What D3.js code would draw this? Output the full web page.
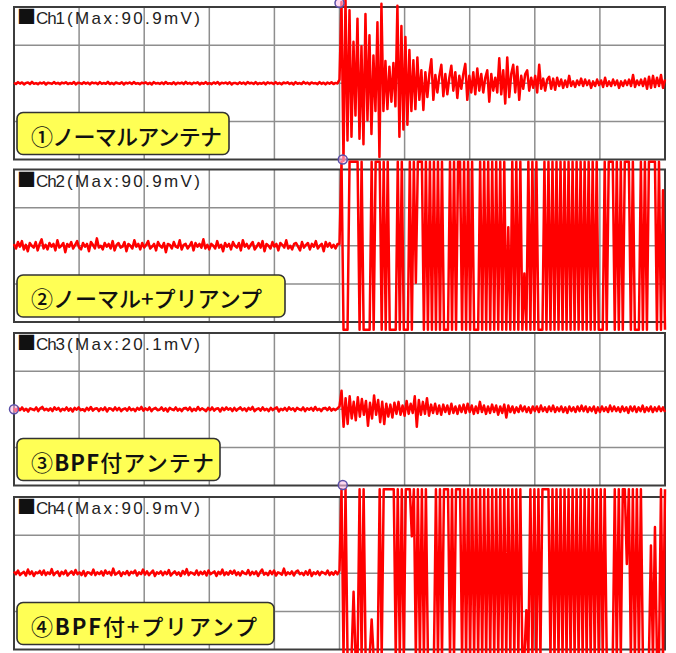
<!DOCTYPE html>
<html>
<head>
<meta charset="utf-8">
<script src="https://cdn.jsdelivr.net/npm/d3@7/dist/d3.min.js"></script>
<style>
  html, body { margin: 0; padding: 0; background: #ffffff; }
  svg { display: block; }
</style>
</head>
<body>
<svg id="scope" width="676" height="653"></svg>
<script>
// Channel names and antenna set-up captions
const channels = ["Ch1", "Ch2", "Ch3", "Ch4"];
const captions = ["①ノーマルアンテナ", "②ノーマル+プリアンプ", "③BPF付アンテナ", "④BPF付+プリアンプ"];

// Samples before the trigger (mV)
const ch1Pre = [0.5,-0.8,1.2,-0.4,0.9,-1.3,0.3,0.8,-0.9,1.5,-0.6,0.2,-1.1,0.7,-0.3,1.0,-1.4,0.6,0.1,-0.7,1.3,-0.5,0.4,-1.0,0.8,-0.2,1.1,-0.9,0.3,-0.6,1.4,-1.2,0.5,0.2,-0.8,1.0,-0.4,0.7,-1.3,0.9,-0.1,0.6,-1.0,1.2,-0.7,0.3,-0.5,1.5,-0.9,0.4,-1.2,0.8,0.0,-0.6,1.1,-1.4,0.6,-0.3,0.9,-0.8,1.3,-0.5,0.2,-1.1,0.7,-0.2,1.0,-0.9,0.5,-1.3,1.2,-0.4,0.3,-0.7,0.9,-1.0,1.4,-0.6,0.1,-0.8,1.1,-1.2,0.6,-0.3,0.8,-0.9,1.5,-0.5,0.4,-1.1,0.7,-0.1,1.0,-1.3,0.5,-0.6,1.2,-0.8,0.3,-1.0,0.9,-0.4,1.3,-1.2,0.6,-0.2,0.8,-0.7,1.1,-1.4,0.4,0.2,-0.9,1.0,-0.5,0.7,-1.1,1.4,-0.3,0.5,-0.8,1.2,-1.0,0.3,-0.6,0.9,-1.3,1.1,-0.2,0.6,-0.9,1.3,-0.7,0.4,-1.2,0.8,-0.1,1.0,-0.8,0.5,-1.4,1.2,-0.6,0.3,-0.9,1.5,-0.4,0.7,-1.1,0.9,-0.3,0.2,-1.0,1.3,-0.7,0.6,-1.2,0.8,-0.5,1.1,-0.9,0.4,-0.2];
const ch2Pre = [2,-3,4,-1,5,-4,1,-6,3,0,-2,4,-5,2,7,-3,1,-4,3,-1,2,-5,6,-2,0,3,-7,2,-1,4,-3,1,5,-2,-4,3,-1,2,-6,4,1,-3,8,-2,0,-4,3,-1,2,-3,5,-5,1,3,-2,-1,4,-6,2,0,-3,6,-1,2,-4,3,-2,1,5,-3,-1,2,-5,4,0,-2,3,-7,2,1,-3,4,-1,-2,6,-4,1,2,-3,0,4,-5,3,-1,2,-2,7,-3,1,-4,2,0,-3,5,-2,1,-6,3,-1,2,-4,4,0,-2,3,-5,6,-1,2,-3,1,4,-4,-1,3,-2,5,-6,2,0,-3,4,-1,2,-5,3,1,-2,6,-3,0,-4,2,3,-1,-5,4,-2,1,3,-4,2,-1,5,-3,0,2,-6,4,-1,3,-2,1,-3,2];
const ch3Pre = [1,-2,1.5,-1,2,-1.5,0.5,-2.5,1,0,-1,2,-2,1,2.5,-1,0.5,-1.5,1,-2,2,-0.5,1.5,-2,0.5,-1,2,-1.5,1,-2.5,1.5,-0.5,2,-1,0,-2,1.5,-1,2.5,-1.5,0.5,1,-2,1,-1,2,-2.5,1,0.5,-1.5,2,-1,1.5,-2,0,1,-1.5,2,-1,0.5,-2,1.5,-0.5,2.5,-1.5,1,-1,2,-2,0.5,1.5,-1,-0.5,2,-1.5,1,-2.5,1.5,0,-1,2,-1.5,0.5,-2,1,1.5,-1,2,-2,0.5,-1.5,2.5,-1,1,-0.5,-2,1.5,-1,2,-1.5,0.5,1,-2.5,1.5,-1,2,-0.5,1,-2,1.5,-1.5,0.5,2,-1,1,-2,1.5,-0.5,2.5,-2,0,1,-1.5,2,-1,0.5,-2,1.5,-1,1,2,-2.5,0.5,-1,1.5,-1.5,2,-0.5,1,-2,1.5,0,-1,2,-2,1,-0.5,1.5,-1.5,2.5,-1,0.5,-2,1,1.5,-1,2,-1.5,0.5,-1,1];
const ch4Pre = [2,-1,3,-2,0,1.5,-2.5,4,-1,2,-3,1,0,2.5,-1.5,3,-2,1,-1,4.5,-2,0.5,2,-3,1.5,-1,3,-2.5,0,2,-1.5,3.5,-1,1,-2,2.5,-3,1,0.5,-1.5,4,-2,1,-1,2,-2.5,3,-0.5,1.5,-2,5,-1.5,0,2,-3,1,-1,2.5,-2,1.5,0,3,-2.5,1,-1,4,-1.5,2,-2,0.5,3,-3,1,-0.5,2,-2,1.5,-1,3.5,-2.5,0,2,-1.5,1,-3,2.5,-1,4.5,-2,1,0,-1.5,3,-2,1.5,-1,2,-2.5,3,-1,0.5,2,-3,1.5,-1,4,-2,1,-1.5,2.5,-0.5,3,-2,1,-2.5,2,0,-1,3.5,-2,1.5,-1,2,-3,1,4,-1.5,0.5,-2,2.5,-1,3,-2.5,1,0,-1.5,5,-2,1,-1,2,-2.5,1.5,3,-1,0.5,-2,2,-1.5,3.5,-3,1,-1,2,-2,1.5,0.5,-1,3,-2,1,-1.5,2,-1];

// Samples from the trigger onward (mV); ±90.9 is the input limit
const ch1Post = [4,88,-84,90.9,-62,79,-58,45,-35,70,-60,40,-66,75,-40,52,-55,30,-30,66,-80,86,-30,24,-28,18,-20,22,-25,84,-58,62,-50,50,-45,36,-30,25,-28,28,-18,14,-29,12,-15,10,26,-18,9,-10,8,20,-14,10,-12,6,19,-8,12,-16,8,-6,10,21,-18,8,-10,12,-12,16,-8,10,-10,6,14,-20,10,-8,6,-10,27,-12,14,-22,28,-15,10,20,-10,18,-18,8,-6,10,14,-8,6,-5,8,-10,20,-6,5,-8,4,7,-6,5,-7,6,-3,4,-5,3,-4,8,-3,2,-4,3,-2,5,-3,4,-2,3,-5,2,-3,4,-2,3,-4,6,-3,2,-3,4,-2,3,-5,2,-3,3,-2,4,-3,9,-4,3,-2,4,-3,5,-6,7,-5,8,-4,6,-3,9,-5,4];
const ch2Post = [2,90.9,-90.9,-90.9,-90.9,90.9,90.9,90.9,90.9,90.9,-90.9,90.9,-90.9,-90.9,-90.9,-90.9,90.9,-90.9,90.9,90.9,90.9,-90.9,90.9,-90.9,90.9,-90.9,-90.9,-90.9,-90.9,90.9,-90.9,90.9,-90.9,-90.9,-90.9,90.9,-90.9,90.9,-40,90.9,90.9,90.9,-90.9,90.9,-90.9,90.9,-90.9,90.9,-90.9,90.9,-90.9,90.9,-90.9,-90.9,-90.9,90.9,-90.9,90.9,-90.9,90.9,90.9,-90.9,90.9,-90.9,90.9,-90.9,90.9,-90.9,-90.9,-90.9,90.9,-90.9,90.9,-90.9,90.9,-90.9,90.9,-90.9,90.9,-90.9,90.9,-90.9,90.9,-90.9,20,-90.9,90.9,-90.9,90.9,-90.9,90.9,-90.9,-30,-90.9,90.9,-90.9,90.9,-90.9,90.9,-90.9,-90.9,-90.9,90.9,-90.9,90.9,-90.9,90.9,-90.9,90.9,-90.9,90.9,-90.9,90.9,-90.9,90.9,-90.9,90.9,-90.9,90.9,-90.9,90.9,-90.9,90.9,-90.9,90.9,-90.9,90.9,-90.9,90.9,-90.9,-90.9,-90.9,90.9,-90.9,90.9,90.9,90.9,-90.9,90.9,-90.9,90.9,-90.9,90.9,90.9,90.9,-90.9,90.9,-90.9,-90.9,-90.9,90.9,-90.9,90.9,-90.9,90.9,90.9,90.9,90.9,-90.9,90.9,-90.9,60,-90.9];
const ch3Post = [3,20.1,-19,12,-16,14,-10,8,-12,13,-8,11,-6,9,-18,7,-10,15,-6,10,-14,8,-16,6,-8,5,-9,7,-5,8,-6,4,-7,9,-5,6,-4,14,-19,10,-6,8,-5,12,-7,5,-4,6,-5,4,-6,5,-3,4,-5,6,-4,3,-5,4,-3,5,-4,6,-3,4,-5,3,-4,8,-3,4,-5,3,-4,5,-3,4,-6,3,-4,5,-9,4,-3,3,-4,2,-3,4,-2,3,-3,2,-4,3,-2,3,-3,4,-2,2,-3,3,-2,4,-3,2,-2,3,-3,2,-4,3,-2,2,-3,3,-2,4,-2,3,-3,2,-2,3,-4,2,-3,3,-2,2,-3,4,-2,3,-2,2,-3,3,-2,2,-4,3,-2,3,-3,2,-2,4,-3,2,-2,3,-3,2,-2,3,-2,2,-3];
const ch4Post = [3,90.9,-90.9,90.9,-90.9,-90.9,-90.9,-20,-90.9,-90.9,90.9,-90.9,90.9,-90.9,-90.9,-90.9,-50,-90.9,-90.9,-90.9,90.9,-90.9,90.9,90.9,90.9,90.9,90.9,90.9,-90.9,90.9,-90.9,90.9,-90.9,90.9,90.9,90.9,40,90.9,-90.9,90.9,-90.9,90.9,-90.9,90.9,-90.9,-90.9,-90.9,-90.9,90.9,-90.9,90.9,-90.9,90.9,90.9,90.9,-90.9,90.9,-90.9,90.9,90.9,90.9,-90.9,90.9,-90.9,90.9,-90.9,90.9,-90.9,90.9,-90.9,90.9,-90.9,90.9,-90.9,90.9,-90.9,90.9,-90.9,90.9,-90.9,90.9,-90.9,90.9,-90.9,90.9,-90.9,90.9,-90.9,90.9,-90.9,90.9,-90.9,-90.9,-40,-90.9,90.9,-90.9,90.9,-90.9,90.9,-90.9,90.9,90.9,90.9,90.9,-90.9,90.9,-90.9,90.9,-90.9,90.9,-90.9,90.9,-90.9,90.9,-90.9,90.9,-90.9,90.9,-90.9,90.9,-90.9,90.9,-90.9,90.9,-90.9,90.9,-90.9,90.9,-90.9,90.9,-90.9,90.9,-90.9,-90.9,-90.9,-90.9,90.9,-90.9,90.9,-90.9,90.9,90.9,10,90.9,-90.9,90.9,-90.9,90.9,-90.9,90.9,-90.9,-90.9,-90.9,-90.9,30,-90.9,50,-90.9,-90.9,90.9,-90.9,90.9];

const preData = [ch1Pre, ch2Pre, ch3Pre, ch4Pre];
const postData = [ch1Post, ch2Post, ch3Post, ch4Post];

// Screen layout
const left = 14, right = 665;
const panelTops = [7, 169.5, 333, 497];
const panelH = 152.5;
const mvPerDiv = 41.3;
const boxWidths = [212, 268, 203, 257];
const captionLengths = [191, 231, 183, 226];

const svg = d3.select("#scope");

// Time axis in divisions, trigger at 0
const x = d3.scaleLinear().domain([-5, 5]).range([left, right]);

const panels = channels.map((name, i) => {
  const top = panelTops[i];
  const y = d3.scaleLinear().domain([-2 * mvPerDiv, 2 * mvPerDiv]).range([top + panelH, top]);
  const pre = preData[i], post = postData[i];
  const pts = pre.map((v, j) => [-5 + 5 * j / pre.length, v])
    .concat(post.map((v, k) => [5 * k / (post.length - 1), v]));
  const maxV = d3.max(pre.concat(post));
  return { name, top, y, pts, maxV, caption: captions[i], boxW: boxWidths[i], capLen: captionLengths[i] };
});

const gridLayer = svg.append("g");
const traceLayer = svg.append("g");
const labelLayer = svg.append("g");
const markLayer = svg.append("g");

panels.forEach(p => {
  const g = gridLayer.append("g");
  g.append("rect").attr("x", left).attr("y", p.top).attr("width", right - left).attr("height", panelH)
    .attr("fill", "#ffffff");
  // vertical grid
  g.selectAll("line.v").data(d3.range(-4, 5)).join("line")
    .attr("x1", d => x(d)).attr("x2", d => x(d))
    .attr("y1", p.top).attr("y2", p.top + panelH)
    .attr("stroke", "#8e8e8e").attr("stroke-width", 1.5);
  // horizontal grid
  g.selectAll("line.h").data([-1, 0, 1]).join("line")
    .attr("x1", left).attr("x2", right)
    .attr("y1", d => p.y(d * mvPerDiv)).attr("y2", d => p.y(d * mvPerDiv))
    .attr("stroke", "#8e8e8e").attr("stroke-width", 1.5);
  g.append("rect").attr("x", left).attr("y", p.top).attr("width", right - left).attr("height", panelH)
    .attr("fill", "none").attr("stroke", "#3c3c3c").attr("stroke-width", 2);

  const line = d3.line().x(d => x(d[0])).y(d => p.y(d[1]));
  traceLayer.append("path").datum(p.pts).attr("d", line)
    .attr("fill", "none").attr("stroke", "#ff0000").attr("stroke-width", 2.5)
    .attr("stroke-linejoin", "round");

  // channel header
  const hdr = labelLayer.append("text").attr("y", p.top + 17)
    .attr("font-family", "'Liberation Sans', Arial, sans-serif").attr("font-size", 17).attr("fill", "#222");
  hdr.append("tspan").attr("x", 17).attr("font-family", "'Noto Sans CJK JP'").attr("font-size", 19)
    .attr("fill", "#111").text("■");
  hdr.append("tspan").attr("x", 36).attr("textLength", 29).attr("lengthAdjust", "spacing").text(p.name);
  hdr.append("tspan").attr("x", 67).attr("textLength", 133).attr("lengthAdjust", "spacing")
    .text(`(Max:${p.maxV.toFixed(1)}mV)`);

  // caption box
  const by = p.top + 105.5;
  labelLayer.append("rect").attr("x", 17).attr("y", by).attr("width", p.boxW).attr("height", 42)
    .attr("rx", 6).attr("ry", 6).attr("fill", "#ffff55").attr("stroke", "#333333").attr("stroke-width", 1.6);
  const cap = labelLayer.append("text").attr("x", 31).attr("y", by + 22)
    .attr("dominant-baseline", "central")
    .attr("font-family", "'Noto Sans CJK JP', sans-serif").attr("font-size", 22).attr("font-weight", 500)
    .attr("fill", "#111").attr("textLength", p.capLen).attr("lengthAdjust", "spacing");
  const parts = p.caption.split("BPF");
  if (parts.length > 1) {
    cap.append("tspan").text(parts[0]);
    cap.append("tspan").attr("font-weight", 700).text("BPF");
    cap.append("tspan").text(parts[1]);
  } else {
    cap.text(p.caption);
  }
});

// trigger / reference markers
const marks = [[0, panels[0].top - 4], [0.05, panels[0].top + panelH], [-5, panels[2].top + panelH / 2], [0.05, panels[2].top + panelH - 0.5]];
marks.forEach(([t, yy]) => {
  markLayer.append("circle").attr("cx", x(t)).attr("cy", yy).attr("r", 4.5)
    .attr("fill", "rgba(255,190,230,0.6)").attr("stroke", "#5a4fa8").attr("stroke-width", 1.5);
});
</script>
</body>
</html>
